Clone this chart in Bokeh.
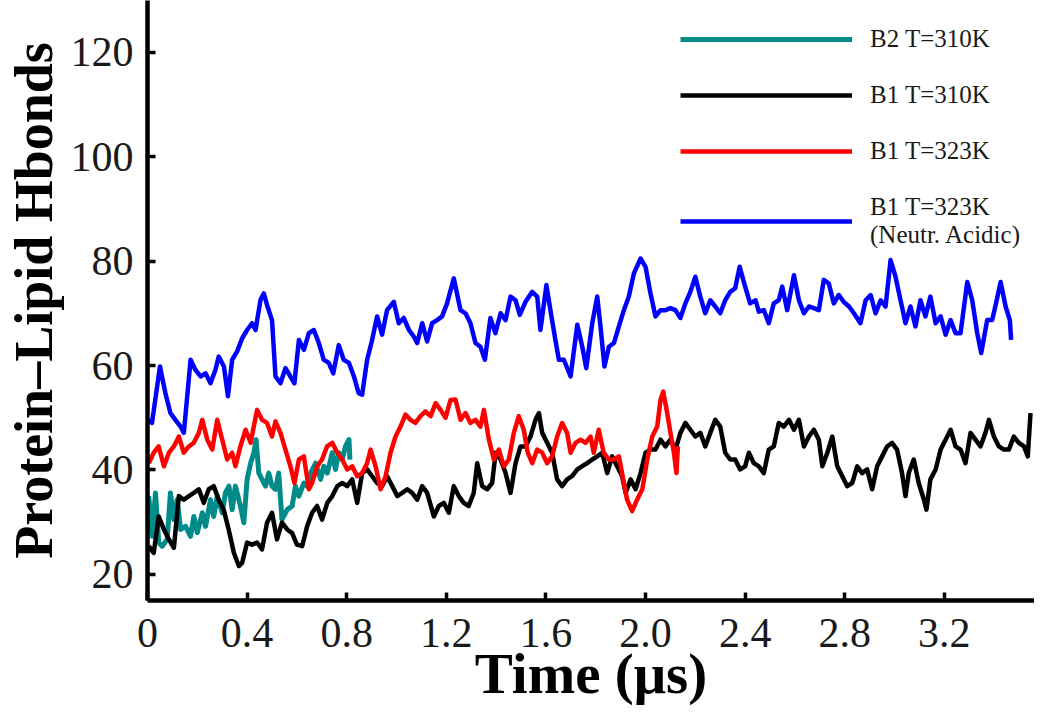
from bokeh.plotting import figure
from bokeh.models import Range1d, FixedTicker, CustomJSTickFormatter, Legend, LegendItem
from bokeh.embed import file_html
from bokeh.resources import INLINE

# ---------------- data (time in microseconds, number of H-bonds) ----------------
t_b2_310 = [0.005, 0.019, 0.032, 0.045, 0.059, 0.079, 0.092, 0.106, 0.119, 0.133, 0.153, 0.173,
            0.186, 0.2, 0.22, 0.233, 0.253, 0.266, 0.28, 0.3, 0.313, 0.327, 0.34, 0.353, 0.373,
            0.387, 0.4, 0.414, 0.427, 0.436, 0.447, 0.46, 0.474, 0.487, 0.5, 0.514, 0.527, 0.54,
            0.561, 0.581, 0.594, 0.608, 0.628, 0.641, 0.655, 0.675, 0.695, 0.708, 0.722, 0.742,
            0.755, 0.768, 0.782, 0.795, 0.809, 0.813]
v_b2_310 = [35.0, 27.3, 35.6, 26.1, 25.4, 26.7, 35.6, 30.5, 34.3, 28.6, 29.2, 27.3,
            31.1, 28.0, 31.8, 29.2, 34.3, 31.1, 35.0, 31.8, 35.6, 36.9, 32.4, 36.9, 33.1,
            29.9, 38.2, 41.3, 43.3, 45.8, 39.4, 38.2, 36.9, 39.4, 36.9, 36.3, 39.4, 30.5,
            32.4, 33.1, 36.9, 35.0, 37.5, 36.9, 39.4, 41.3, 38.2, 40.7, 39.4, 43.3,
            40.1, 43.3, 42.0, 44.5, 45.8, 42.0]

t_b1_310 = [0.005, 0.025, 0.045, 0.066, 0.086, 0.106, 0.126, 0.146, 0.166, 0.186, 0.206, 0.226,
            0.246, 0.266, 0.286, 0.306, 0.326, 0.347, 0.367, 0.38, 0.40, 0.42, 0.44, 0.46,
            0.48, 0.50, 0.52, 0.54, 0.561, 0.581, 0.60, 0.621, 0.641, 0.661, 0.681, 0.701,
            0.722, 0.742, 0.762, 0.782, 0.802, 0.822, 0.842, 0.862, 0.882, 0.902, 0.922, 0.942,
            0.962, 0.983, 1.003, 1.023, 1.043, 1.063, 1.083, 1.103, 1.123, 1.15, 1.17, 1.19,
            1.21, 1.23, 1.25, 1.27, 1.29, 1.31, 1.324, 1.344, 1.364, 1.384, 1.398, 1.418,
            1.438, 1.458, 1.478, 1.498, 1.518, 1.538, 1.558, 1.572, 1.585, 1.605, 1.625, 1.645,
            1.665, 1.685, 1.705, 1.726, 1.745, 1.766, 1.786, 1.806, 1.826, 1.846, 1.866, 1.886,
            1.906, 1.92, 1.94, 1.96, 1.98, 2.0, 2.02, 2.04, 2.06, 2.08, 2.1, 2.12,
            2.14, 2.16, 2.18, 2.2, 2.22, 2.24, 2.26, 2.28, 2.3, 2.32, 2.34, 2.36,
            2.38, 2.40, 2.415, 2.435, 2.455, 2.475, 2.495, 2.515, 2.535, 2.555, 2.576, 2.596,
            2.616, 2.636, 2.656, 2.676, 2.696, 2.71, 2.73, 2.75, 2.77, 2.79, 2.81, 2.83,
            2.85, 2.87, 2.89, 2.91, 2.93, 2.95, 2.97, 2.99, 3.01, 3.03, 3.044, 3.057,
            3.077, 3.097, 3.118, 3.128, 3.144, 3.165, 3.185, 3.205, 3.225, 3.245, 3.265, 3.285,
            3.305, 3.325, 3.345, 3.365, 3.379, 3.399, 3.419, 3.439, 3.459, 3.479, 3.499, 3.52,
            3.535, 3.546]
v_b1_310 = [25.4, 24.1, 31.1, 28.6, 26.7, 25.1, 35.0, 34.3, 35.0, 35.6, 36.3, 33.7,
            36.3, 36.9, 34.3, 32.4, 28.6, 24.1, 21.6, 22.2, 26.1, 25.7, 26.1, 24.8,
            29.9, 31.8, 26.7, 29.9, 28.6, 27.9, 25.7, 25.4, 29.2, 31.8, 33.1, 30.5,
            33.7, 35.0, 36.9, 37.5, 36.9, 38.2, 33.7, 39.4, 40.1, 38.8, 37.5, 36.9,
            38.8, 36.9, 35.0, 35.6, 36.3, 35.6, 34.3, 36.9, 35.6, 31.1, 33.1, 33.7,
            31.8, 36.9, 35.0, 33.7, 33.1, 35.6, 41.3, 36.9, 36.3, 37.5, 43.3, 42.0,
            39.4, 35.6, 41.3, 44.5, 44.5, 46.4, 49.6, 50.9, 47.1, 45.2, 43.3, 38.2,
            36.9, 38.2, 38.8, 40.1, 40.7, 41.3, 42.0, 42.6, 43.3, 39.4, 42.6, 40.7,
            38.8, 35.6, 38.2, 36.3, 39.4, 43.3, 43.9, 43.9, 45.8, 44.5, 45.8, 43.9,
            47.1, 49.0, 47.7, 46.4, 47.1, 44.5, 47.1, 49.6, 48.3, 43.3, 42.0, 42.0,
            40.1, 40.7, 43.3, 41.3, 40.7, 39.4, 43.9, 44.5, 49.0, 48.3, 49.6, 47.7,
            49.6, 44.5, 46.4, 47.7, 45.8, 40.7, 43.3, 46.4, 40.7, 38.8, 36.9, 37.5,
            40.7, 39.4, 40.1, 36.3, 40.7, 42.6, 44.5, 45.2, 43.9, 39.4, 35.0, 39.4,
            42.0, 37.5, 34.3, 32.4, 38.2, 40.1, 43.9, 45.8, 47.7, 44.5, 43.9, 41.3,
            47.1, 45.8, 44.5, 47.1, 49.6, 46.4, 44.5, 43.9, 43.9, 46.4, 45.2, 44.5,
            42.6, 50.9]

t_b1_323 = [0.005, 0.025, 0.045, 0.066, 0.086, 0.106, 0.126, 0.146, 0.166, 0.186, 0.206, 0.22,
            0.24, 0.26, 0.28, 0.30, 0.32, 0.34, 0.353, 0.373, 0.394, 0.414, 0.44, 0.46,
            0.48, 0.50, 0.514, 0.534, 0.554, 0.574, 0.59, 0.608, 0.628, 0.648, 0.661, 0.681,
            0.701, 0.721, 0.742, 0.762, 0.782, 0.802, 0.822, 0.842, 0.862, 0.882, 0.896, 0.916,
            0.936, 0.956, 0.976, 0.996, 1.016, 1.036, 1.056, 1.076, 1.096, 1.116, 1.137, 1.157,
            1.177, 1.197, 1.217, 1.237, 1.257, 1.277, 1.297, 1.317, 1.337, 1.351, 1.371, 1.391,
            1.411, 1.431, 1.451, 1.471, 1.491, 1.511, 1.527, 1.545, 1.565, 1.585, 1.605, 1.625,
            1.645, 1.665, 1.685, 1.699, 1.719, 1.739, 1.759, 1.779, 1.792, 1.812, 1.832, 1.853,
            1.873, 1.893, 1.913, 1.926, 1.946, 1.966, 1.987, 2.007, 2.027, 2.047, 2.06, 2.071,
            2.087, 2.1, 2.114, 2.124, 2.13]
v_b1_323 = [41.3, 43.3, 44.5, 40.7, 43.3, 44.5, 46.4, 43.3, 44.5, 45.2, 47.1, 49.6,
            45.8, 43.9, 49.6, 45.8, 42.0, 43.3, 40.7, 44.5, 47.7, 45.2, 51.5, 49.6,
            49.0, 46.4, 49.3, 47.1, 43.9, 40.7, 37.5, 42.0, 42.6, 36.3, 37.5, 40.7,
            42.0, 44.5, 45.2, 43.3, 42.0, 40.1, 40.7, 38.8, 39.4, 41.3, 43.9, 40.7,
            36.3, 38.8, 43.3, 46.4, 48.3, 50.6, 49.6, 49.0, 50.3, 51.2, 50.3, 52.8,
            51.5, 50.0, 53.4, 53.5, 49.6, 50.9, 49.0, 49.6, 48.3, 51.5, 45.8, 42.0,
            43.9, 40.7, 42.0, 47.1, 50.3, 47.7, 43.3, 41.3, 43.9, 43.3, 41.3, 42.6,
            46.4, 49.0, 47.1, 43.3, 45.2, 45.8, 45.2, 46.4, 43.3, 47.7, 43.3, 42.0,
            42.0, 42.6, 37.5, 34.3, 32.1, 34.3, 36.3, 42.0, 46.4, 48.3, 53.4, 55.0,
            50.9, 47.1, 43.3, 39.4, 44.5]

t_b1_323n = [0.005, 0.018, 0.05, 0.072, 0.092, 0.112, 0.133, 0.146, 0.173, 0.192, 0.213, 0.233,
             0.253, 0.273, 0.286, 0.307, 0.323, 0.34, 0.36, 0.38, 0.40, 0.42, 0.434, 0.454,
             0.467, 0.48, 0.50, 0.514, 0.534, 0.554, 0.574, 0.59, 0.608, 0.628, 0.648, 0.668,
             0.688, 0.708, 0.728, 0.746, 0.768, 0.788, 0.809, 0.829, 0.848, 0.862, 0.882, 0.902,
             0.922, 0.942, 0.962, 0.989, 1.009, 1.029, 1.05, 1.07, 1.083, 1.103, 1.123, 1.143,
             1.163, 1.183, 1.203, 1.23, 1.257, 1.277, 1.297, 1.317, 1.337, 1.355, 1.377, 1.397,
             1.418, 1.438, 1.458, 1.478, 1.495, 1.518, 1.545, 1.565, 1.578, 1.602, 1.618, 1.638,
             1.652, 1.672, 1.699, 1.726, 1.746, 1.762, 1.786, 1.806, 1.819, 1.835, 1.853, 1.873,
             1.893, 1.913, 1.933, 1.953, 1.98, 2.0, 2.02, 2.04, 2.06, 2.08, 2.1, 2.12,
             2.14, 2.16, 2.18, 2.2, 2.22, 2.24, 2.26, 2.28, 2.3, 2.32, 2.34, 2.36,
             2.378, 2.40, 2.42, 2.442, 2.455, 2.475, 2.495, 2.515, 2.535, 2.549, 2.569, 2.596,
             2.616, 2.636, 2.656, 2.676, 2.696, 2.716, 2.736, 2.756, 2.776, 2.796, 2.817, 2.837,
             2.863, 2.884, 2.904, 2.924, 2.944, 2.964, 2.984, 3.004, 3.024, 3.044, 3.064, 3.084,
             3.104, 3.124, 3.144, 3.165, 3.185, 3.205, 3.225, 3.245, 3.265, 3.292, 3.312, 3.332,
             3.348, 3.372, 3.392, 3.406, 3.426, 3.446, 3.463, 3.468]
v_b1_323n = [49.6, 49.0, 59.8, 54.7, 50.9, 49.6, 48.3, 47.1, 61.1, 59.2, 57.9, 58.5,
             56.6, 59.2, 61.7, 59.8, 54.1, 61.1, 62.7, 65.2, 66.8, 68.1, 66.8, 72.6,
             73.8, 71.6, 68.7, 57.9, 56.6, 59.5, 57.9, 56.6, 64.9, 63.0, 66.2, 66.8,
             64.3, 61.1, 60.5, 58.5, 63.9, 61.1, 60.5, 57.9, 54.7, 54.4, 61.1, 64.9,
             69.4, 65.9, 70.6, 72.2, 68.1, 69.1, 66.8, 65.5, 64.3, 68.1, 64.6, 68.1,
             68.7, 69.4, 71.9, 76.7, 70.6, 70.0, 68.1, 64.3, 63.6, 61.1, 69.1, 66.2,
             70.0, 68.7, 73.2, 72.5, 69.7, 72.2, 74.1, 73.2, 66.8, 75.4, 70.6, 64.9,
             61.1, 61.1, 57.9, 67.8, 63.6, 59.5, 68.1, 73.2, 67.5, 59.8, 63.6, 64.3,
             67.5, 70.6, 73.2, 77.6, 80.5, 78.9, 73.8, 69.4, 70.6, 70.6, 71.0, 70.6,
             69.1, 71.9, 74.1, 77.0, 73.2, 70.0, 72.5, 71.3, 70.0, 72.5, 74.1, 74.8,
             78.9, 75.1, 71.9, 72.5, 70.3, 70.6, 68.1, 71.9, 72.5, 75.1, 70.6, 77.3,
             72.5, 70.0, 71.3, 71.0, 70.6, 76.4, 75.7, 71.9, 73.5, 72.2, 71.3, 70.0,
             68.1, 72.5, 73.5, 70.0, 72.5, 71.3, 80.2, 77.0, 72.5, 68.1, 71.3, 67.5,
             72.5, 69.4, 73.2, 68.1, 69.4, 65.9, 68.7, 66.2, 66.2, 76.0, 72.5, 66.2,
             62.4, 68.7, 68.7, 71.6, 76.0, 71.3, 68.7, 64.9]

series_labels = ["B2 T=310K", "B1 T=310K", "B1 T=323K", "B1 T=323K\n(Neutr. Acidic)"]
series_colors = ["#008b8b", "#000000", "#ff0000", "#0000ff"]

x_ticks = [0, 0.4, 0.8, 1.2, 1.6, 2.0, 2.4, 2.8, 3.2, 3.6]
y_ticks = [20, 40, 60, 80, 100, 120]
x_title = "Time (\u03bcs)"
y_title = "Protein\u2013Lipid Hbonds"

SERIF = "Liberation Serif"

p = figure(width=1034, height=707, output_backend="svg", toolbar_location=None,
           x_range=Range1d(0, 3.562), y_range=Range1d(15.0, 129.9),
           min_border_left=147, min_border_right=0, min_border_top=0, min_border_bottom=106)

p.grid.visible = False
p.outline_line_color = None
p.background_fill_color = "white"
p.border_fill_color = "white"

r_b2 = p.line(t_b2_310, v_b2_310, line_color=series_colors[0], line_width=5, line_join="round")
r_b1 = p.line(t_b1_310, v_b1_310, line_color=series_colors[1], line_width=4.5, line_join="round")
r_b1h = p.line(t_b1_323, v_b1_323, line_color=series_colors[2], line_width=4.5, line_join="round")
r_b1n = p.line(t_b1_323n, v_b1_323n, line_color=series_colors[3], line_width=4.5, line_join="round")

for ax in (p.xaxis[0], p.yaxis[0]):
    ax.axis_line_width = 4.5
    ax.axis_line_color = "black"
    ax.major_tick_line_width = 3.5
    ax.major_tick_line_color = "black"
    ax.major_tick_in = 8
    ax.major_tick_out = 0
    ax.minor_tick_line_color = None
    ax.major_label_text_font = SERIF
    ax.major_label_text_font_size = "42px"
    ax.major_label_text_color = "#1a1a1a"
    ax.axis_label_text_font = SERIF
    ax.axis_label_text_font_style = "bold"
    ax.axis_label_text_color = "black"

p.xaxis[0].ticker = FixedTicker(ticks=x_ticks)
p.xaxis[0].formatter = CustomJSTickFormatter(code="""
    if (tick > 3.5) { return ''; }
    if (Math.abs(tick) < 1e-9) { return '0'; }
    return tick.toFixed(1);
""")
p.xaxis[0].major_label_standoff = 18
p.xaxis[0].axis_label = x_title
p.xaxis[0].axis_label_text_font_size = "57px"
p.xaxis[0].axis_label_standoff = -8

p.yaxis[0].ticker = FixedTicker(ticks=y_ticks)
p.yaxis[0].major_label_standoff = 14
p.yaxis[0].axis_label = y_title
p.yaxis[0].axis_label_text_font_size = "54px"
p.yaxis[0].axis_label_standoff = 4

legend = Legend(items=[
    LegendItem(label=series_labels[0], renderers=[r_b2]),
    LegendItem(label=series_labels[1], renderers=[r_b1]),
    LegendItem(label=series_labels[2], renderers=[r_b1h]),
    LegendItem(label=series_labels[3], renderers=[r_b1n]),
], location=(533, 351))
legend.glyph_width = 172
legend.glyph_height = 20
legend.label_standoff = 18
legend.label_text_font = SERIF
legend.label_text_font_size = "25px"
legend.label_text_color = "#1a1a1a"
legend.label_height = 24
legend.spacing = 28
legend.padding = 0
legend.margin = 0
legend.border_line_color = None
legend.background_fill_alpha = 0
p.add_layout(legend)

open("out.html", "w").write(file_html(p, INLINE))
